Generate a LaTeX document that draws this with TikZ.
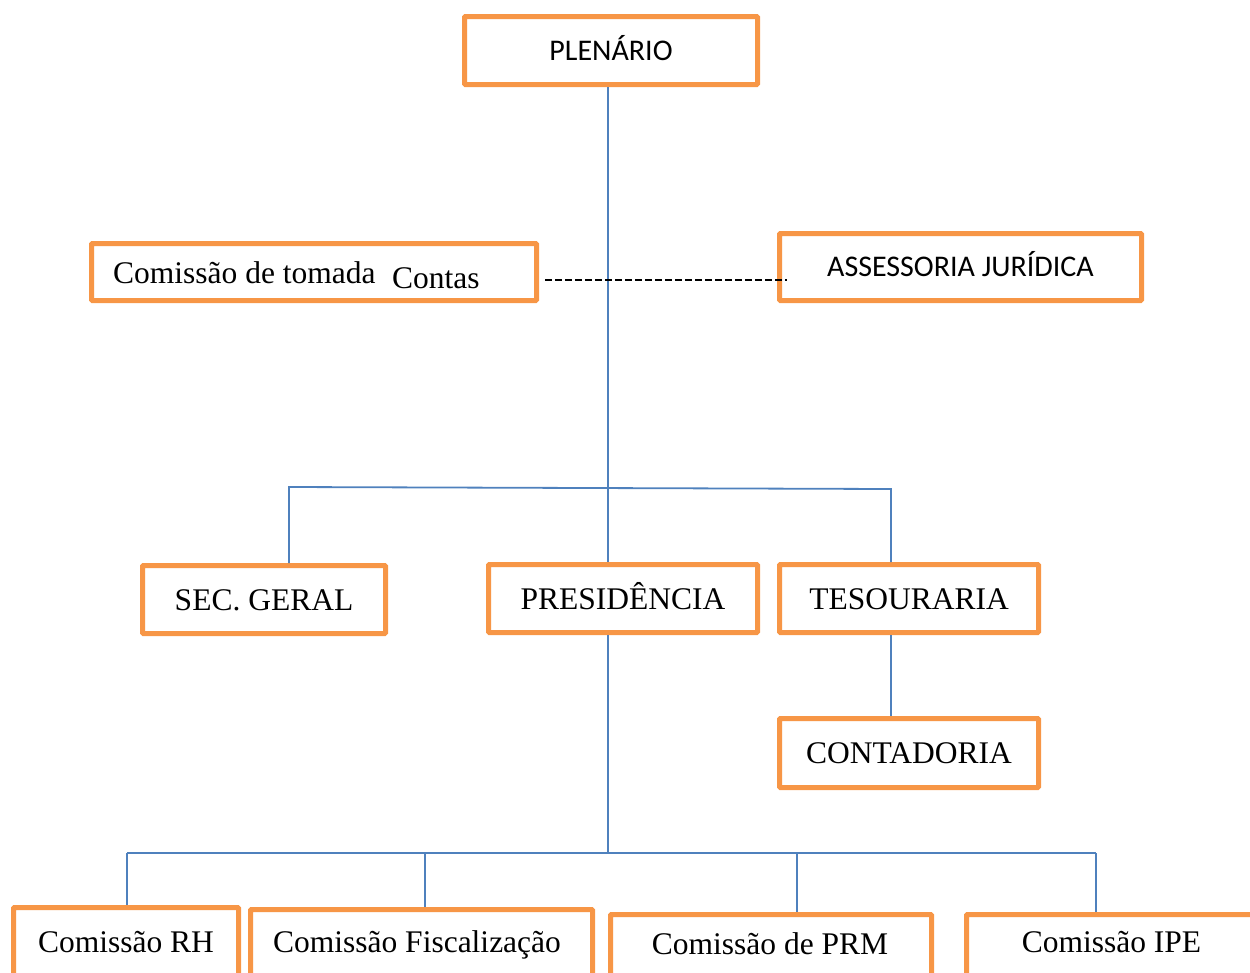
\documentclass[tikz,border=0pt]{standalone}
\usepackage{fontspec}
\setmainfont{Liberation Serif}
\newfontfamily\calibri{Carlito}
\definecolor{boxorange}{HTML}{F79646}
\definecolor{lineblue}{HTML}{4F81BD}
\begin{document}
\begin{tikzpicture}[x=1pt,y=-1pt,
  box/.style={draw=boxorange, line width=5pt, rectangle, inner sep=0pt, outer sep=2.5pt, rounded corners=1pt, fill=white},
  serif/.style={font=\fontsize{31.5}{36}\selectfont, text height=21pt, text depth=0pt, inner sep=0pt},
  sans/.style={font=\calibri\fontsize{30}{36}\selectfont, text height=19pt, text depth=0pt, inner sep=0pt},
  link/.style={draw=lineblue, line width=1.8pt},
  dashlink/.style={draw=black, line width=1.4pt, dash pattern=on 7pt off 3pt}]
\path[use as bounding box] (0,0) rectangle (1250,972);
\clip (0,0) rectangle (1250,972);

% boxes
\node[box, sans, minimum width=293, minimum height=68] (plen) at (611,50.5) {PLEN\'ARIO};
\node[box, minimum width=445, minimum height=57] (com) at (314,272) {};
\node[serif, anchor=base west] (tcom1) at (113,283) {Comissão de tomada};
\node[serif, anchor=base west] (tcom2) at (392,288) {Contas};
\node[box, sans, minimum width=362, minimum height=67] (ass) at (960.5,267) {ASSESSORIA JURÍDICA};

\node[box, serif, minimum width=243, minimum height=68] (sec) at (264,599.5) {SEC. GERAL};
\node[box, serif, minimum width=269, minimum height=68] (pres) at (623,598.5) {PRESIDÊNCIA};
\node[box, serif, minimum width=259, minimum height=68] (tes) at (909,598.5) {TESOURARIA};
\node[box, serif, minimum width=259, minimum height=69] (cont) at (909,753) {CONTADORIA};

\node[box, anchor=north, minimum width=225, minimum height=90] (rh) at (126,905) {};
\node[box, anchor=north, minimum width=342, minimum height=90] (fis) at (421.5,907) {};
\node[box, anchor=north, minimum width=321, minimum height=90] (prm) at (771,912) {};
\node[box, anchor=north, minimum width=290, minimum height=90] (ipe) at (1111.5,912) {};
\node[serif] (trh) at (126,942) {Comissão RH};
\node[serif] (tfis) at (417,942) {Comissão Fiscalização};
\node[serif] (tprm) at (770,944) {Comissão de PRM};
\node[serif] (tipe) at (1111.5,942) {Comissão IPE};

% coordinates for connectors
\coordinate (tx) at (608,0);
\coordinate (sx) at (289,487);
\coordinate (tx1) at (891,489);
\coordinate (b2) at (608,853);
\coordinate (d1) at (127,853);
\coordinate (d2) at (425,853);
\coordinate (d3) at (797,853);
\coordinate (d4) at (1096,853);
\coordinate (dl) at (545,280);
\coordinate (dr) at (787,280);

% connectors
\draw[link] (plen.south -| tx) -- (pres.north -| tx);
\draw[link] (sx |- sec.north) -- (sx) -- (tx1) -- (tx1 |- tes.north);
\draw[link] (tx1 |- tes.south) -- (tx1 |- cont.north);
\draw[link] (pres.south -| b2) -- (b2);
\draw[link] (d1) -- (d4);
\draw[link] (d1) -- (d1 |- rh.north);
\draw[link] (d2) -- (d2 |- fis.north);
\draw[link] (d3) -- (d3 |- prm.north);
\draw[link] (d4) -- (d4 |- ipe.north);
\draw[dashlink] (dl) -- (dr);
\end{tikzpicture}
\end{document}
